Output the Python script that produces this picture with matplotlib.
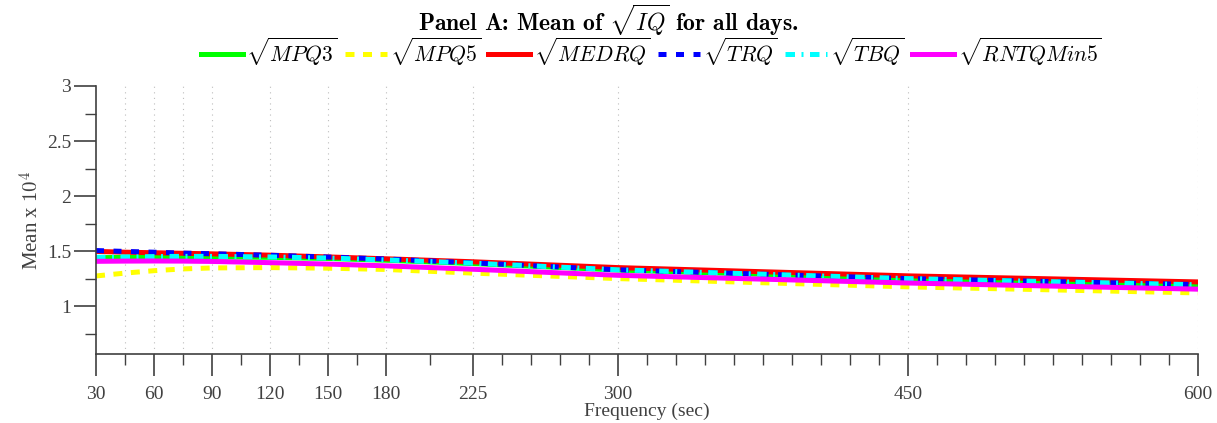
import matplotlib
matplotlib.use("Agg")
import matplotlib.pyplot as plt
import numpy as np

# sampling frequencies (sec)
freq = [30, 45, 60, 75, 90, 120, 150, 180, 225, 300, 450, 600]

# mean of sqrt(IQ), x 10^4
mpq3 = [1.440, 1.443, 1.446, 1.447, 1.447, 1.443, 1.433, 1.417, 1.387, 1.328, 1.250, 1.190]
mpq5 = [1.274, 1.300, 1.322, 1.338, 1.347, 1.350, 1.345, 1.333, 1.300, 1.250, 1.175, 1.120]
medrq = [1.497, 1.490, 1.485, 1.480, 1.475, 1.463, 1.447, 1.430, 1.403, 1.350, 1.275, 1.220]
trq = [1.505, 1.497, 1.490, 1.482, 1.476, 1.462, 1.446, 1.428, 1.393, 1.330, 1.250, 1.196]
tbq = [1.443, 1.447, 1.450, 1.452, 1.452, 1.447, 1.437, 1.420, 1.390, 1.330, 1.250, 1.194]
rntq = [1.407, 1.409, 1.410, 1.409, 1.406, 1.395, 1.382, 1.366, 1.335, 1.280, 1.210, 1.154]

xticks = [30, 60, 90, 120, 150, 180, 225, 300, 450, 600]
xminor = [45, 75, 105, 135, 165, 202.5] + list(range(240, 300, 15)) \
    + list(range(315, 450, 15)) + list(range(465, 600, 15))
yticks = [1, 1.5, 2, 2.5, 3]
yminor = [0.75, 1.25, 1.75, 2.25, 2.75]

plt.rcParams['mathtext.fontset'] = 'cm'
plt.rcParams['font.family'] = ['Liberation Serif', 'DejaVu Serif']

fig = plt.figure(figsize=(12.17, 4.23), dpi=100)
ax = fig.add_axes([96 / 1217, 1 - 354 / 423, 1102 / 1217, 268 / 423])

axc = '#404040'
for g in freq[1:]:
    ax.axvline(g, ls=(0, (1, 4)), color='#bdbdbd', lw=0.8, zorder=0)

lw = 3.6
ax.plot(freq, mpq3, color='#00ff00', lw=lw, label=r'$\sqrt{MPQ3}$')
ax.plot(freq, mpq5, color='#ffff00', lw=lw, dashes=(1.8, 1.7), label=r'$\sqrt{MPQ5}$')
ax.plot(freq, medrq, color='#ff0000', lw=lw, label=r'$\sqrt{MEDRQ}$')
ax.plot(freq, trq, color='#0000ff', lw=lw, dashes=(1.6, 1.9), label=r'$\sqrt{TRQ}$')
ax.plot(freq, tbq, color='#00ffff', lw=lw, dashes=(1.9, 1.3, 0.4, 1.3), label=r'$\sqrt{TBQ}$')
ax.plot(freq, rntq, color='#ff00ff', lw=lw, label=r'$\sqrt{RNTQMin5}$')

ax.set_xlim(30, 600)
ax.set_ylim(0.565, 3)
ax.set_xticks(xticks)
ax.set_xticks(xminor, minor=True)
ax.set_yticks(yticks)
ax.set_yticklabels(['1', '1.5', '2', '2.5', '3'])
ax.set_yticks(yminor, minor=True)

for s in ['top', 'right']:
    ax.spines[s].set_visible(False)
for s in ['left', 'bottom']:
    ax.spines[s].set_color(axc)
    ax.spines[s].set_linewidth(1.2)

ax.tick_params(which='major', direction='out', length=16, width=1.2, color=axc,
               labelcolor='#404040', labelsize=14)
ax.tick_params(axis='x', which='major', pad=7)
ax.tick_params(axis='y', which='major', pad=2)
ax.tick_params(which='minor', direction='out', length=8, width=1.0, color=axc)

ax.set_xlabel('Frequency (sec)', fontsize=14, color='#404040', labelpad=0)
ax.set_ylabel(r'Mean x $10^4$', fontsize=15, color='#404040', labelpad=2)

fig.text(0.5, 0.953, r'Panel A: Mean of $\sqrt{IQ}$ for all days.', ha='center', va='center',
         fontsize=17, family=['cmb10', 'DejaVu Serif'], fontweight='bold')

leg = fig.legend(loc='center', bbox_to_anchor=(0.535, 0.878), ncol=6, frameon=False,
                 fontsize=15.5, handlelength=1.95, handletextpad=0.15, columnspacing=0.35,
                 borderaxespad=0, borderpad=0)

fig.savefig('out.png', dpi=100)
